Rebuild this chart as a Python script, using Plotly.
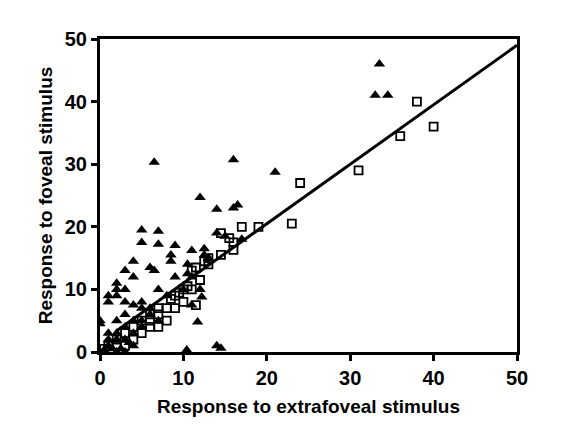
import plotly.graph_objects as go

tri_x = [6.5,16,21,33.5,33,34.5,12,16.5,16,14,14,15,5,5,7,7,9,8.5,8.5,11,12.5,12.5,13,10.5,10.5,4,3,6,6.5,4,2,2,2,1,1,0,0,3,3,4,5,5,6,4,5,3,2,1,2,1,3,4,2,3,14,11,7,6,8,9,7,10,11,12,13,17,3,2,1,1.5,4,5,11.7,10.4,14.5,12.2,0.5,2.5,3.5]
tri_y = [30.3,30.7,28.7,46,41,41,24.7,23.5,23,22.8,19,18.5,19.5,17.5,19.3,17.2,17,15.5,14.5,16.2,16.5,15.5,15,14,12.5,14.5,13,13.5,13,12,11,10,9,9,8,5,4.5,10,8,7.5,8,7,7,5,5,4,3,2,2,1,2,1,0,0,1,7.5,5,6,9,12,10,10,12,10,15,18,6,5,3,0.5,3,4,4.8,0.3,0.6,8.8,0.3,0.5,1.5]
sq_x = [38,40,36,31,24,23,19,17,16,15.5,14.5,13,13,12.5,11.5,11,12,11,10,10.5,9.5,9,11.5,10,8.5,9,8,7,6,5,4,3,2,1,7,6,5,4,2,14.5,16,0.5,3,8,6,7]
sq_y = [40,36,34.5,29,27,20.5,20,20,17.5,18.2,15.5,14,15,14.5,13.5,13,11.5,10,10,10.5,9.5,9,7.5,8,8.5,7,7,6,6,5,4,3,2,1,4,4,3,2,1,19,16.3,0.5,1,5,5,7]
line_x = [2, 50]
line_y = [3.4, 49]

fig = go.Figure()
fig.add_trace(go.Scatter(x=line_x, y=line_y, mode="lines", line=dict(color="black", width=3), showlegend=False))
fig.add_trace(go.Scatter(x=sq_x, y=sq_y, mode="markers", showlegend=False,
    marker=dict(symbol="square-open", size=8, color="black", line=dict(width=1.8))))
fig.add_trace(go.Scatter(x=tri_x, y=tri_y, mode="markers", showlegend=False,
    marker=dict(symbol="triangle-up", size=10, color="black")))
ax = dict(range=[0, 50], tickvals=[0,10,20,30,40,50], showgrid=False, zeroline=False,
          showline=True, linecolor="black", linewidth=3, mirror=True, ticks="outside",
          ticklen=6, tickwidth=3, tickcolor="black",
          tickfont=dict(family="Liberation Sans", size=20, color="black", weight="bold"))
fig.update_xaxes(**ax, title=dict(text="<b>Response to extrafoveal stimulus</b>",
    font=dict(family="Liberation Sans", size=19, color="black"), standoff=12))
fig.update_yaxes(**ax, title=dict(text="<b>Response to foveal stimulus</b>",
    font=dict(family="Liberation Sans", size=19, color="black"), standoff=8))
fig.update_layout(width=584, height=425, plot_bgcolor="white", paper_bgcolor="white",
    margin=dict(l=92, r=75, t=31, b=81))
fig.write_html("out.html")
